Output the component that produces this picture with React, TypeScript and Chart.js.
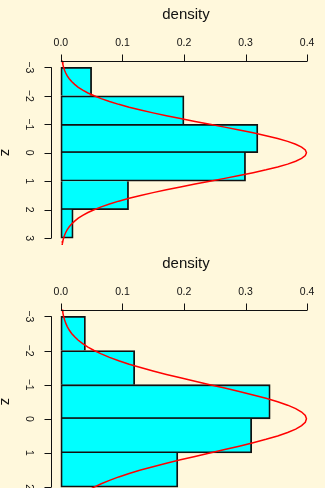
import React, { useEffect, useRef } from "react";
import { Chart, registerables } from "chart.js";

Chart.register(...registerables);

// ---- data ----
const densityTicks = [0, 0.1, 0.2, 0.3, 0.4];
const densityTickLabels = ["0.0", "0.1", "0.2", "0.3", "0.4"];
const densityLimits = [0, 0.4];

const zTicks1 = [-3, -2, -1, 0, 1, 2, 3];
const zTickLabels1 = ["\u22123", "\u22122", "\u22121", "0", "1", "2", "3"];
const zLimits1 = [-3, 3];
const binMids1 = [-2.5, -1.5, -0.5, 0.5, 1.5, 2.5];
const binDensity1 = [0.05, 0.2, 0.32, 0.3, 0.11, 0.02];

const zTicks2 = [-3, -2, -1, 0, 1, 2];
const zTickLabels2 = ["\u22123", "\u22122", "\u22121", "0", "1", "2"];
const zLimits2 = [-3, 2];
const binMids2 = [-2.5, -1.5, -0.5, 0.5, 1.5];
const binDensity2 = [0.04, 0.12, 0.34, 0.31, 0.19];

const curveZ = [
  -3.3, -3.2, -3.1, -3.0, -2.9, -2.8, -2.7, -2.6, -2.5, -2.4, -2.3, -2.2, -2.1, -2.0,
  -1.9, -1.8, -1.7, -1.6, -1.5, -1.4, -1.3, -1.2, -1.1, -1.0, -0.9, -0.8, -0.7, -0.6,
  -0.5, -0.4, -0.3, -0.2, -0.1, 0.0, 0.1, 0.2, 0.3, 0.4, 0.5, 0.6, 0.7, 0.8, 0.9, 1.0,
  1.1, 1.2, 1.3, 1.4, 1.5, 1.6, 1.7, 1.8, 1.9, 2.0, 2.1, 2.2, 2.3, 2.4, 2.5, 2.6, 2.7,
  2.8, 2.9, 3.0, 3.1, 3.2, 3.3,
];
const curveDensity = [
  0.0017, 0.0024, 0.0033, 0.0044, 0.006, 0.0079, 0.0104, 0.0136, 0.0175, 0.0224, 0.0283,
  0.0355, 0.044, 0.054, 0.0656, 0.079, 0.094, 0.1109, 0.1295, 0.1497, 0.1714, 0.1942,
  0.2179, 0.242, 0.2661, 0.2897, 0.3123, 0.3332, 0.3521, 0.3683, 0.3814, 0.391, 0.397,
  0.3989, 0.397, 0.391, 0.3814, 0.3683, 0.3521, 0.3332, 0.3123, 0.2897, 0.2661, 0.242,
  0.2179, 0.1942, 0.1714, 0.1497, 0.1295, 0.1109, 0.094, 0.079, 0.0656, 0.054, 0.044,
  0.0355, 0.0283, 0.0224, 0.0175, 0.0136, 0.0104, 0.0079, 0.006, 0.0044, 0.0033, 0.0024,
  0.0017,
];

const xTitle = "density";
const yTitle = "z";

const BG = "#FFF8DC";
const FONT = '"Liberation Sans", Arial, Helvetica, sans-serif';

const ext = (lo: number, hi: number) => [lo - 0.04 * (hi - lo), hi + 0.04 * (hi - lo)];

const rAxesPlugin = {
  id: "rAxes",
  afterDraw(chart: any, _args: any, opts: any) {
    const { ctx, chartArea, scales } = chart;
    const xs = scales.x;
    const ys = scales.y;
    const tick = 7;
    ctx.save();
    ctx.strokeStyle = "#111";
    ctx.fillStyle = "#111";
    ctx.lineWidth = 1;

    // top axis
    const yTop = Math.round(chartArea.top) + 0.5;
    const xt = opts.xTicks as number[];
    ctx.beginPath();
    ctx.moveTo(xs.getPixelForValue(xt[0]), yTop);
    ctx.lineTo(xs.getPixelForValue(xt[xt.length - 1]), yTop);
    xt.forEach((v) => {
      const p = Math.round(xs.getPixelForValue(v)) + 0.5;
      ctx.moveTo(p, yTop);
      ctx.lineTo(p, yTop - tick);
    });
    ctx.stroke();
    ctx.font = `10.5px ${FONT}`;
    ctx.textAlign = "center";
    ctx.textBaseline = "alphabetic";
    xt.forEach((v, i) => {
      ctx.fillText(opts.xLabels[i], xs.getPixelForValue(v), chartArea.top - 14.5);
    });

    // title
    ctx.font = `15px ${FONT}`;
    ctx.fillText(opts.xTitle, (chartArea.left + chartArea.right) / 2 + 2, chartArea.top - 41.5);

    // left axis
    const xLeft = Math.round(chartArea.left) + 0.5;
    const yt = opts.yTicks as number[];
    ctx.beginPath();
    ctx.moveTo(xLeft, ys.getPixelForValue(yt[0]));
    ctx.lineTo(xLeft, ys.getPixelForValue(yt[yt.length - 1]));
    yt.forEach((v) => {
      const p = Math.round(ys.getPixelForValue(v)) + 0.5;
      ctx.moveTo(xLeft, p);
      ctx.lineTo(xLeft - tick, p);
    });
    ctx.stroke();
    ctx.font = `10.5px ${FONT}`;
    ctx.textAlign = "center";
    ctx.textBaseline = "middle";
    yt.forEach((v, i) => {
      ctx.save();
      ctx.translate(chartArea.left - 22.5, ys.getPixelForValue(v));
      ctx.rotate(Math.PI / 2);
      ctx.fillText(opts.yLabels[i], 0, 0);
      ctx.restore();
    });

    // y title
    ctx.font = `15px ${FONT}`;
    ctx.save();
    ctx.translate(chartArea.left - 45.5, (chartArea.top + chartArea.bottom) / 2);
    ctx.rotate(Math.PI / 2);
    ctx.fillText(opts.yTitle, 0, 0);
    ctx.restore();

    ctx.restore();
  },
};

type PanelProps = {
  mids: number[];
  dens: number[];
  zLim: number[];
  zTicks: number[];
  zLabels: string[];
  top: number;
};

function Panel({ mids, dens, zLim, zTicks, zLabels, top }: PanelProps) {
  const ref = useRef<HTMLCanvasElement | null>(null);
  useEffect(() => {
    if (!ref.current) return;
    const [xMin, xMax] = ext(densityLimits[0], densityLimits[1]);
    const [yMin, yMax] = ext(zLim[0], zLim[1]);
    const last = mids.length - 1;
    const bw = 1.8;
    const chart = new Chart(ref.current, {
      type: "bar",
      data: {
        datasets: [
          {
            type: "line",
            data: curveZ.map((z, i) => ({ x: curveDensity[i], y: z })),
            borderColor: "#FF0000",
            borderWidth: 1.5,
            pointRadius: 0,
            tension: 0,
            fill: false,
          } as any,
          {
            type: "bar",
            data: mids.map((m, i) => ({ x: dens[i], y: m })),
            backgroundColor: "#00FFFF",
            borderColor: "#111111",
            borderWidth: (c: any) => {
              const i = c.dataIndex;
              return {
                top: i === 0 || dens[i - 1] <= dens[i] ? bw : 0,
                bottom: i === last || dens[i + 1] < dens[i] ? bw : 0,
                left: bw,
                right: bw,
              };
            },
            borderSkipped: false,
            barPercentage: 1,
            categoryPercentage: 1,
          } as any,
        ],
      },
      options: {
        indexAxis: "y",
        animation: false,
        responsive: false,
        devicePixelRatio: 1,
        layout: { padding: { left: 51, right: 8, top: 60.5, bottom: 4 } },
        plugins: {
          legend: { display: false },
          tooltip: { enabled: false },
          rAxes: {
            xTicks: densityTicks,
            xLabels: densityTickLabels,
            yTicks: zTicks,
            yLabels: zLabels,
            xTitle,
            yTitle,
          },
        } as any,
        scales: {
          x: {
            type: "linear",
            display: false,
            min: xMin,
            max: xMax,
            offset: false,
          },
          y: {
            type: "linear",
            display: false,
            min: yMin,
            max: yMax,
            reverse: true,
            offset: false,
            ticks: { stepSize: 1, includeBounds: false },
          },
        },
      } as any,
      plugins: [rAxesPlugin as any],
    });
    return () => chart.destroy();
  }, []);
  return (
    <canvas
      ref={ref}
      width={325}
      height={249}
      style={{ position: "absolute", left: 0, top, width: 325, height: 249, display: "block" }}
    />
  );
}

export default function App() {
  return (
    <div
      style={{
        position: "absolute",
        left: 0,
        top: 0,
        width: 325,
        height: 488,
        overflow: "hidden",
        background: BG,
      }}
    >
      <Panel mids={binMids1} dens={binDensity1} zLim={zLimits1} zTicks={zTicks1} zLabels={zTickLabels1} top={0} />
      <Panel mids={binMids2} dens={binDensity2} zLim={zLimits2} zTicks={zTicks2} zLabels={zTickLabels2} top={249} />
    </div>
  );
}
